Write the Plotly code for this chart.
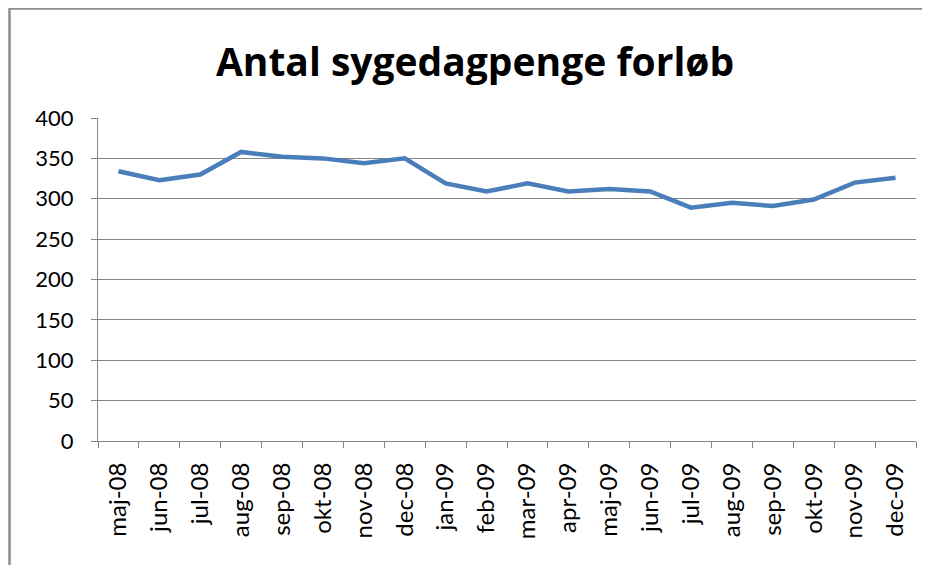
import plotly.graph_objects as go

months = ["maj-08", "jun-08", "jul-08", "aug-08", "sep-08", "okt-08", "nov-08", "dec-08",
          "jan-09", "feb-09", "mar-09", "apr-09", "maj-09", "jun-09", "jul-09", "aug-09",
          "sep-09", "okt-09", "nov-09", "dec-09"]
values = [334, 323, 330, 358, 352, 350, 344, 350,
          319, 309, 319, 309, 312, 309, 289, 295,
          291, 299, 320, 326]
y_ticks = [0, 50, 100, 150, 200, 250, 300, 350, 400]

tick_font = "Lato, Open Sans, sans-serif"
title_font = "Open Sans, Lato, sans-serif"

W, H = 922, 557
L, R, T, B = 90, 14, 110, 124
pw, ph = W - L - R, H - T - B

fig = go.Figure()
fig.add_trace(go.Scatter(
    x=months, y=values, mode="lines",
    line=dict(color="#4A7EBB", width=4.5),
    showlegend=False,
))

fig.update_layout(
    width=W, height=H,
    margin=dict(l=L, r=R, t=T, b=B),
    paper_bgcolor="white", plot_bgcolor="white",
    title=dict(text="<b>Antal sygedagpenge forløb</b>", x=(475 - 8) / W, xanchor="center",
               y=1 - 54 / H, yanchor="middle",
               font=dict(family=title_font, size=39, color="black")),
    xaxis=dict(
        type="category", tickson="boundaries", ticks="outside", ticklen=6,
        tickcolor="#868686", showline=True, linecolor="#868686", linewidth=1,
        showgrid=False, tickangle=-90, ticklabelstandoff=11,
        tickfont=dict(family=tick_font, size=24, color="black"),
        range=[-0.5, len(months) - 0.5],
    ),
    yaxis=dict(
        range=[0, 400], tickvals=y_ticks, ticks="outside", ticklen=6,
        tickcolor="#868686", showline=True, linecolor="#868686", linewidth=1,
        showgrid=True, gridcolor="#868686", gridwidth=1, zeroline=False,
        tickfont=dict(family=tick_font, size=22, color="black"),
        ticklabelstandoff=13,
    ),
    shapes=[dict(type="rect", xref="paper", yref="paper",
                 x0=(1.5 - L) / pw, x1=1.2, y0=-0.6, y1=1 + (T - 0.5) / ph,
                 line=dict(color="#8C8C8C", width=2.5), layer="below")],
)

fig.write_html("out.html")
